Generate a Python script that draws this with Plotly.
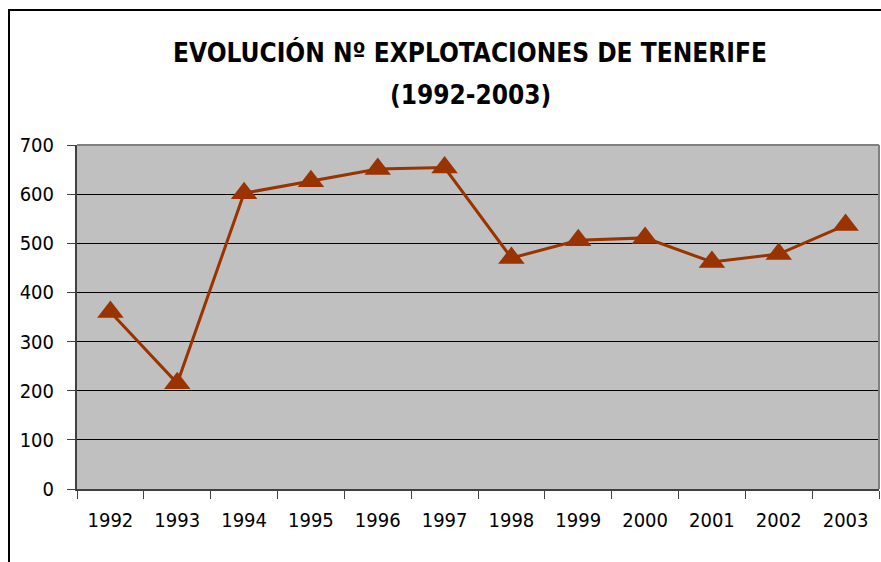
import plotly.graph_objects as go

years = ["1992", "1993", "1994", "1995", "1996", "1997", "1998", "1999", "2000", "2001", "2002", "2003"]
explotaciones = [360, 215, 602, 626, 651, 654, 470, 506, 511, 462, 478, 537]
y_ticks = [0, 100, 200, 300, 400, 500, 600, 700]

FONT = "DejaVu Sans Condensed, Liberation Sans Narrow, Arial Narrow, Liberation Sans, Arial"
COL = "#993300"

fig = go.Figure()
fig.add_trace(go.Scatter(
    x=years, y=explotaciones, mode="lines+markers",
    line=dict(color=COL, width=3),
    marker=dict(symbol="triangle-up", size=23, color=COL),
    cliponaxis=False, showlegend=False,
))

W, H = 881, 562
L, R, T, B = 77, 2, 145, 73
pw, ph = W - L - R, H - T - B

def px(x):
    return (x - L) / pw

def py(y):
    return (H - B - y) / ph

fig.update_layout(
    width=W, height=H,
    margin=dict(l=L, r=R, t=T, b=B),
    paper_bgcolor="white", plot_bgcolor="#C0C0C0",
    font=dict(family=FONT, size=20, color="black"),
    xaxis=dict(type="category", range=[-0.5, len(years) - 0.5], tickson="boundaries",
               ticks="outside", ticklen=8,
               tickcolor="#404040", showline=True, linecolor="#404040", linewidth=2,
               showgrid=False, ticklabelstandoff=12, tickfont=dict(size=20)),
    yaxis=dict(range=[0, 700], tickvals=y_ticks, ticks="outside", ticklen=8,
               tickcolor="#404040", showline=True, linecolor="#404040", linewidth=2,
               showgrid=True, gridcolor="black", gridwidth=1, zeroline=False,
               ticklabelstandoff=9, tickfont=dict(size=20)),
    shapes=[
        dict(type="line", xref="paper", yref="paper", x0=0, x1=1, y0=1, y1=1,
             line=dict(color="#808080", width=2), layer="above"),
        dict(type="line", xref="paper", yref="paper", x0=1, x1=1, y0=0, y1=1,
             line=dict(color="#808080", width=2), layer="above"),
        dict(type="rect", xref="paper", yref="paper", x0=px(9), x1=px(W + 20),
             y0=py(H + 20), y1=py(10), line=dict(color="black", width=2)),
    ],
    annotations=[
        dict(text="<b>EVOLUCIÓN Nº EXPLOTACIONES DE TENERIFE</b>", xref="paper", yref="paper",
             x=px(470), y=py(53), xanchor="center", yanchor="middle", showarrow=False,
             font=dict(family=FONT, size=26, color="black")),
        dict(text="<b>(1992-2003)</b>", xref="paper", yref="paper",
             x=px(470), y=py(95), xanchor="center", yanchor="middle", showarrow=False,
             font=dict(family=FONT, size=26, color="black")),
    ],
)

fig.write_html("out.html", config={"displayModeBar": False},
               post_script="document.body.style.margin='0';")
